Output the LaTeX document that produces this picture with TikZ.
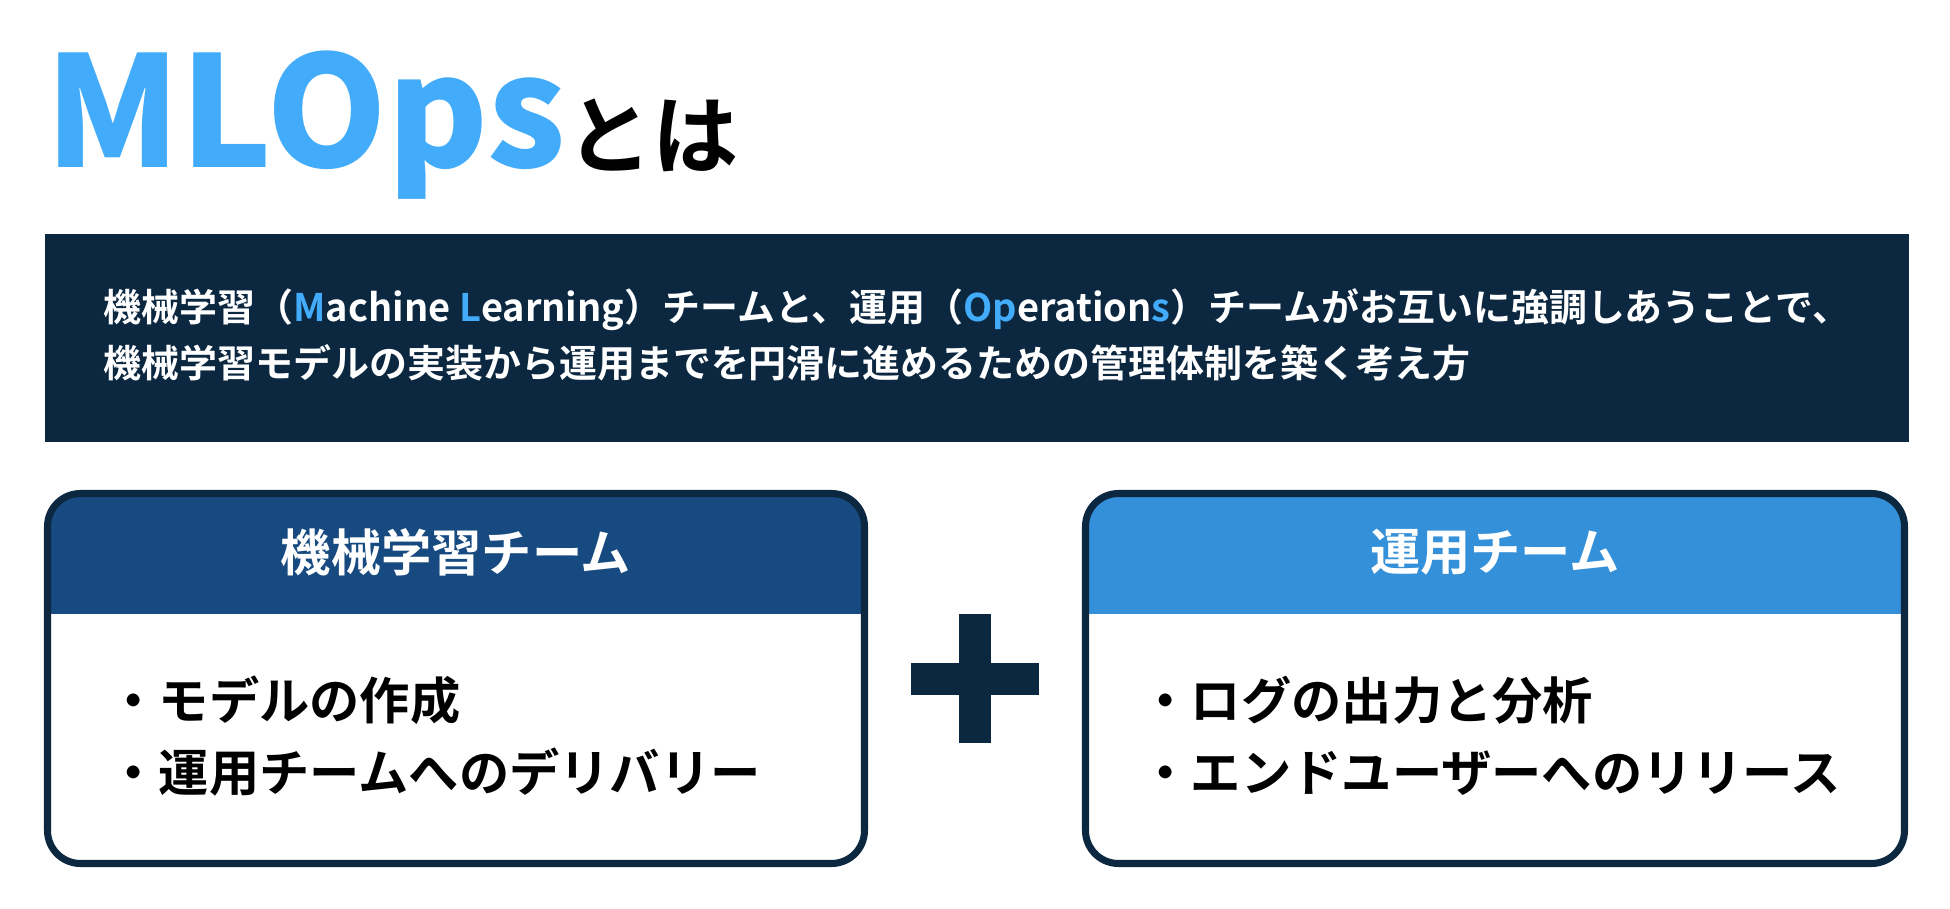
\documentclass[tikz,border=0pt]{standalone}
\usepackage{fontspec}
\setmainfont{Noto Sans CJK JP}[BoldFont=* Bold]
\newfontfamily\heavyfont{Noto Sans CJK JP Black}
\usepackage{xcolor}
\usetikzlibrary{positioning}
\definecolor{mlblue}{RGB}{66,172,250}
\definecolor{navy}{RGB}{12,40,64}
\definecolor{mlhead}{RGB}{23,74,128}
\definecolor{ophead}{RGB}{52,144,217}

\begin{document}
\begin{tikzpicture}[
    card/.style={draw=navy, line width=2pt, rounded corners=0.33cm},
    head/.style={font=\fontsize{14.3}{17}\selectfont\bfseries, text=white, inner sep=0},
    item/.style={font=\fontsize{14.3}{20.5}\selectfont\bfseries, align=left, anchor=west, inner sep=0},
    lead/.style={font=\fontsize{10.8}{15.9}\selectfont\bfseries, text=white, align=left, anchor=west, inner sep=0},
]
\useasboundingbox[fill=white] (0,0) rectangle (19.5,-9.09);

\node[font=\heavyfont\fontsize{43.8}{50}\selectfont, text=mlblue, anchor=base west, inner sep=0] (mlops) at (0.45,-1.67) {MLOps};
\node[font=\fontsize{24.5}{28}\selectfont\bfseries, anchor=base west, inner sep=0] (toha) at (5.66,-1.67) {とは};

\fill[navy] (0.45,-2.34) rectangle (19.09,-4.42);
\node[lead] (def) at (1.03,-3.35) {機械学習（\textcolor{mlblue}{M}achine \textcolor{mlblue}{L}earning）チームと、運用（\textcolor{mlblue}{Op}eration\textcolor{mlblue}{s}）チームがお互いに強調しあうことで、\\機械学習モデルの実装から運用までを円滑に進めるための管理体制を築く考え方};

\begin{scope}
\clip[rounded corners=0.33cm] (0.475,-4.935) rectangle (8.645,-8.635);
\fill[white] (0.475,-4.935) rectangle (8.645,-8.635);
\fill[mlhead] (0.475,-4.935) rectangle (8.645,-6.14);
\end{scope}
\draw[card] (0.475,-4.935) rectangle (8.645,-8.635);
\node[head] (mltitle) at (4.56,-5.52) {機械学習チーム};
\node[item] (mlitems) at (1.08,-7.36) {・モデルの作成\\・運用チームへのデリバリー};

\begin{scope}
\clip[rounded corners=0.33cm] (10.855,-4.935) rectangle (19.045,-8.635);
\fill[white] (10.855,-4.935) rectangle (19.045,-8.635);
\fill[ophead] (10.855,-4.935) rectangle (19.045,-6.14);
\end{scope}
\draw[card] (10.855,-4.935) rectangle (19.045,-8.635);
\node[head] (optitle) at (14.95,-5.52) {運用チーム};
\node[item] (opitems) at (11.40,-7.36) {・ログの出力と分析\\・エンドユーザーへのリリース};

\fill[navy] (9.11,-6.63) rectangle (10.39,-6.95);
\fill[navy] (9.59,-6.14) rectangle (9.91,-7.43);
\end{tikzpicture}
\end{document}
